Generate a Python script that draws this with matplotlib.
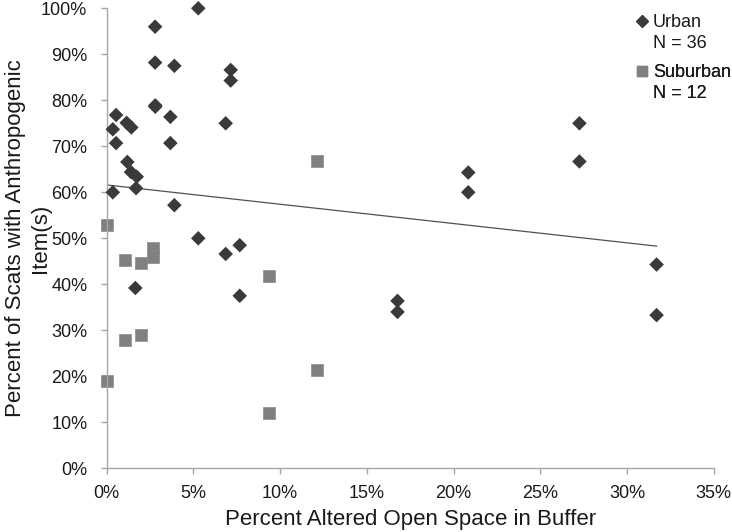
import matplotlib
matplotlib.use("Agg")
import matplotlib.pyplot as plt
from matplotlib.lines import Line2D
from matplotlib.ticker import FuncFormatter, MultipleLocator

plt.rcParams['font.family'] = ['Liberation Sans', 'DejaVu Sans']

# Percent altered open space in buffer (x) vs percent of scats with items (y)
urban_x = [5.28, 2.79, 2.79, 3.90, 7.15, 7.15, 2.80, 2.80, 0.54, 3.67,
           1.15, 1.42, 6.86, 0.35, 0.54, 3.67, 1.19, 1.40, 1.73, 1.69,
           0.35, 3.90, 5.28, 6.86, 7.67, 1.65, 7.67, 16.77, 16.77, 20.85,
           20.85, 27.26, 27.26, 31.71, 31.71]
urban_y = [100.0, 96.0, 88.2, 87.5, 86.6, 84.3, 78.9, 78.6, 76.8, 76.4,
           75.1, 74.1, 75.0, 73.7, 70.7, 70.7, 66.6, 64.4, 63.4, 60.9,
           60.0, 57.2, 50.0, 46.6, 48.5, 39.2, 37.5, 36.4, 34.0, 64.3,
           60.0, 75.0, 66.7, 44.3, 33.3]

suburban_x = [0.0, 2.69, 2.69, 1.07, 1.98, 9.33, 1.98, 1.07, 0.0, 9.33,
              12.11, 12.11]
suburban_y = [52.8, 48.0, 46.0, 45.3, 44.6, 41.7, 28.9, 27.8, 19.0, 12.0,
              66.7, 21.4]

# linear trendline end points
trend_x = [0.0, 31.71]
trend_y = [61.6, 48.3]

urban_labels = ['Urban', 'N = 36']
suburban_labels = ['Suburban', 'N = 12']

text_col = '#1a1a1a'
axis_col = '#a6a6a6'
urban_col = '#3a3a3a'
sub_col = '#808080'

fig = plt.figure(figsize=(7.32, 5.32), dpi=100)
ax = fig.add_axes([0.1458, 0.1197, 0.8291, 0.8647])

ax.plot(trend_x, trend_y, color='#505050', lw=0.9, zorder=1)
ax.scatter(urban_x, urban_y, marker='D', s=55, color=urban_col,
           edgecolors='none', zorder=3, clip_on=False)
ax.scatter(suburban_x, suburban_y, marker='s', s=64, color=sub_col,
           edgecolors='#8c8c8c', linewidths=0.5, zorder=2, clip_on=False)

ax.set_xlim(0, 35)
ax.set_ylim(0, 100)
ax.xaxis.set_major_locator(MultipleLocator(5))
ax.yaxis.set_major_locator(MultipleLocator(10))
pct = FuncFormatter(lambda v, p: f"{v:.0f}%")
ax.xaxis.set_major_formatter(pct)
ax.yaxis.set_major_formatter(pct)

for s in ['top', 'right']:
    ax.spines[s].set_visible(False)
for s in ['left', 'bottom']:
    ax.spines[s].set_color(axis_col)
    ax.spines[s].set_linewidth(1.0)
ax.tick_params(axis='both', direction='out', length=4, width=1.0,
               color=axis_col, labelcolor=text_col, labelsize=13)
ax.tick_params(axis='y', pad=10)
ax.tick_params(axis='x', pad=8)

ax.set_xlabel('Percent Altered Open Space in Buffer', fontsize=16,
              color=text_col, labelpad=5)
ax.set_ylabel('Percent of Scats with Anthropogenic\nItem(s)', fontsize=16,
              color=text_col, linespacing=1.22)
ax.yaxis.set_label_coords(-0.092, 0.5)


def group_legend(handle, labels, top):
    h = [handle, Line2D([], [], ls='none')]
    leg = ax.legend(h, labels, loc='upper left', bbox_to_anchor=(0.872, top),
                    frameon=False, fontsize=13, handlelength=0.7,
                    handletextpad=0.25, labelspacing=0.22, borderpad=0,
                    borderaxespad=0)
    for t in leg.get_texts():
        t.set_color(text_col)
    ax.add_artist(leg)


group_legend(Line2D([], [], marker='D', ls='none', color=urban_col,
                    markersize=6), urban_labels, 0.988)
group_legend(Line2D([], [], marker='s', ls='none', color=sub_col,
                    markersize=7), suburban_labels, 0.879)

fig.savefig('out.png', dpi=100)
